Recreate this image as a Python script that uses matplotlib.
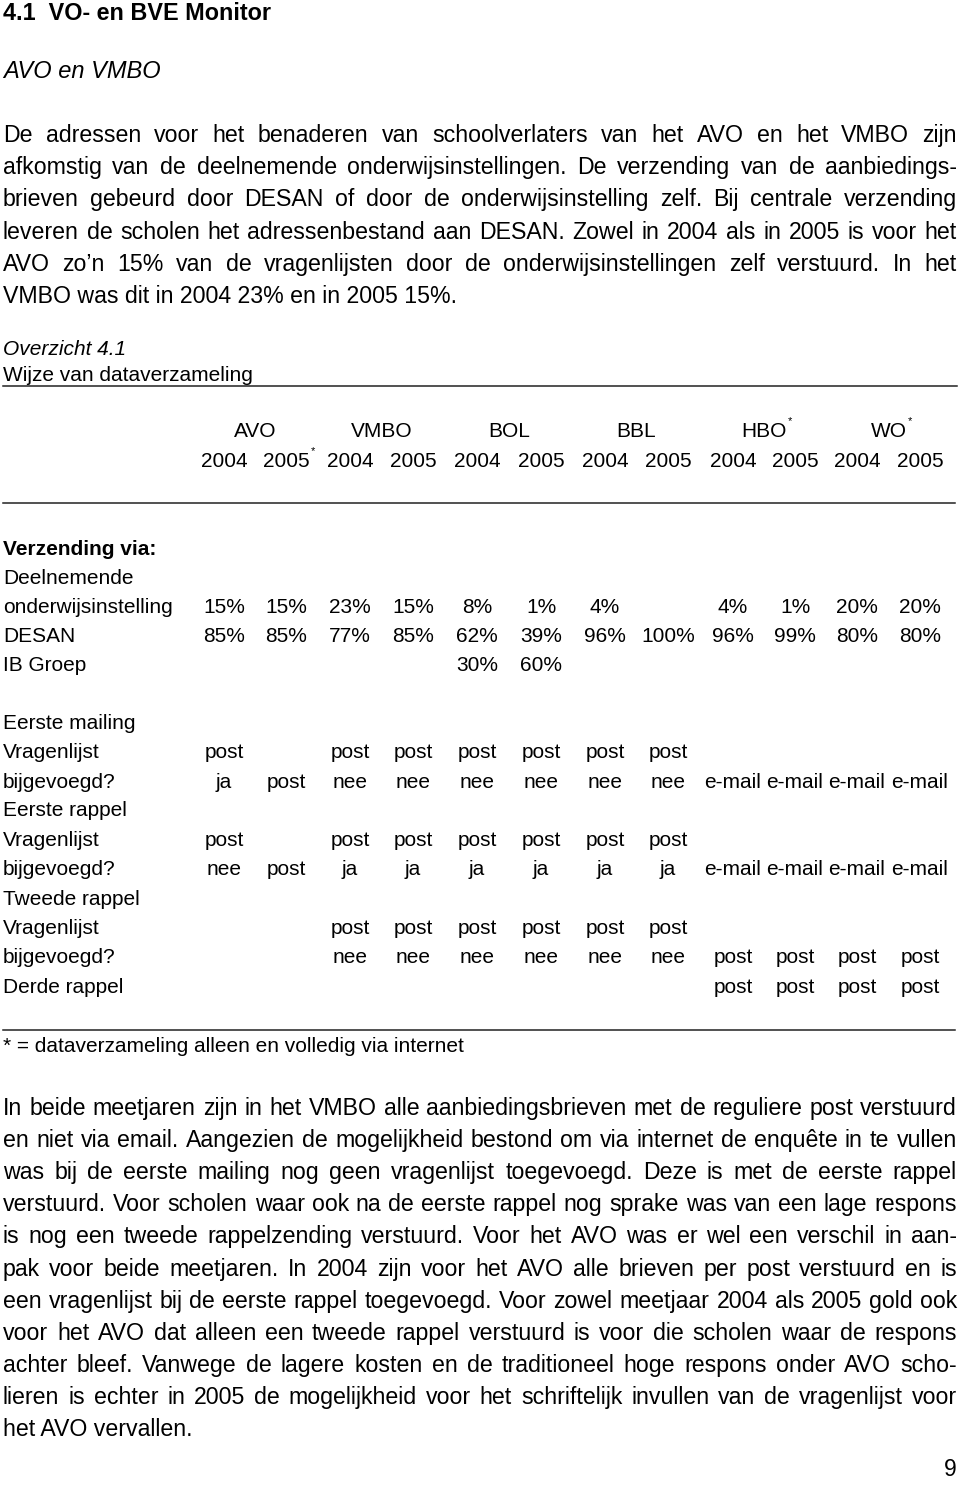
import matplotlib
matplotlib.use("Agg")
import matplotlib.pyplot as plt

plt.rcParams['font.family'] = ['Liberation Sans', 'DejaVu Sans']

W, H = 960, 1485
LEFT, RIGHT = 3, 957
FS = 15        # table text
FS_BODY = 16.7  # running text

title = "4.1  VO- en BVE Monitor"
subtitle = "AVO en VMBO"

para1 = [
    "De adressen voor het benaderen van schoolverlaters van het AVO en het VMBO zijn",
    "afkomstig van de deelnemende onderwijsinstellingen. De verzending van de aanbiedings-",
    "brieven gebeurd door DESAN of door de onderwijsinstelling zelf. Bij centrale verzending",
    "leveren de scholen het adressenbestand aan DESAN. Zowel in 2004 als in 2005 is voor het",
    "AVO zo\u2019n 15% van de vragenlijsten door de onderwijsinstellingen zelf verstuurd. In het",
    "VMBO was dit in 2004 23% en in 2005 15%.",
]

para2 = [
    "In beide meetjaren zijn in het VMBO alle aanbiedingsbrieven met de reguliere post verstuurd",
    "en niet via email. Aangezien de mogelijkheid bestond om via internet de enquête in te vullen",
    "was bij de eerste mailing nog geen vragenlijst toegevoegd. Deze is met de eerste rappel",
    "verstuurd. Voor scholen waar ook na de eerste rappel nog sprake was van een lage respons",
    "is nog een tweede rappelzending verstuurd. Voor het AVO was er wel een verschil in aan-",
    "pak voor beide meetjaren. In 2004 zijn voor het AVO alle brieven per post verstuurd en is",
    "een vragenlijst bij de eerste rappel toegevoegd. Voor zowel meetjaar 2004 als 2005 gold ook",
    "voor het AVO dat alleen een tweede rappel verstuurd is voor die scholen waar de respons",
    "achter bleef. Vanwege de lagere kosten en de traditioneel hoge respons onder AVO scho-",
    "lieren is echter in 2005 de mogelijkheid voor het schriftelijk invullen van de vragenlijst voor",
    "het AVO vervallen.",
]

groups = ["AVO", "VMBO", "BOL", "BBL", "HBO", "WO"]
group_star = [False, False, False, False, True, True]
years = ["2004", "2005"] * 6
year_star = [False, True] + [False] * 10

row_labels = ["Verzending via:", "Deelnemende", "onderwijsinstelling", "DESAN", "IB Groep",
              "Eerste mailing", "Vragenlijst", "bijgevoegd?", "Eerste rappel", "Vragenlijst",
              "bijgevoegd?", "Tweede rappel", "Vragenlijst", "bijgevoegd?", "Derde rappel"]

e = ""
row_values = [
    [e] * 12,
    [e] * 12,
    ["15%", "15%", "23%", "15%", "8%", "1%", "4%", e, "4%", "1%", "20%", "20%"],
    ["85%", "85%", "77%", "85%", "62%", "39%", "96%", "100%", "96%", "99%", "80%", "80%"],
    [e, e, e, e, "30%", "60%", e, e, e, e, e, e],
    [e] * 12,
    ["post", e, "post", "post", "post", "post", "post", "post", e, e, e, e],
    ["ja", "post", "nee", "nee", "nee", "nee", "nee", "nee", "e-mail", "e-mail", "e-mail", "e-mail"],
    [e] * 12,
    ["post", e, "post", "post", "post", "post", "post", "post", e, e, e, e],
    ["nee", "post", "ja", "ja", "ja", "ja", "ja", "ja", "e-mail", "e-mail", "e-mail", "e-mail"],
    [e] * 12,
    [e, e, "post", "post", "post", "post", "post", "post", e, e, e, e],
    [e, e, "nee", "nee", "nee", "nee", "nee", "nee", "post", "post", "post", "post"],
    [e] * 8 + ["post"] * 4,
]

footnote = "* = dataverzameling alleen en volledig via internet"

# layout (pixel positions, baselines)
col_x = [224, 286, 350, 413, 477, 541, 605, 668, 733, 795, 857, 920]
row_y = [555, 584, 613, 642, 671, 729, 758, 788, 816, 846, 875, 905, 934, 963, 993]

fig = plt.figure(figsize=(W / 100, H / 100), dpi=100)
ax = fig.add_axes([0, 0, 1, 1])
ax.set_xlim(0, W)
ax.set_ylim(H, 0)
ax.axis("off")
renderer = fig.canvas.get_renderer()


def justify(line, y, full=True):
    y = round(y)
    words = line.split()
    if not full:
        ax.text(LEFT, y, line, fontsize=FS_BODY, va="baseline", ha="left")
        return
    arts = [ax.text(0, y, w, fontsize=FS_BODY, va="baseline", ha="left") for w in words]
    widths = [a.get_window_extent(renderer=renderer).width for a in arts]
    gap = (RIGHT - LEFT - sum(widths)) / (len(words) - 1)
    x = LEFT
    for a, wd in zip(arts, widths):
        a.set_x(x)
        x += wd + gap


ax.text(LEFT, 20, title, fontsize=16.8, fontweight="bold", va="baseline")
ax.text(LEFT, 78, subtitle, fontsize=17, style="italic", va="baseline")

for i, line in enumerate(para1):
    justify(line, 142 + i * 32.2, full=(i < len(para1) - 1))

ax.text(LEFT, 355, "Overzicht 4.1", fontsize=FS, style="italic", va="baseline")
ax.text(LEFT, 381, "Wijze van dataverzameling", fontsize=FS, va="baseline")
ax.plot([LEFT, RIGHT], [386, 386], color="#222222", lw=1.1)

for g, (name, star) in enumerate(zip(groups, group_star)):
    cx = (col_x[2 * g] + col_x[2 * g + 1]) / 2
    t = ax.text(cx, 437, name, fontsize=FS, ha="center", va="baseline")
    if star:
        bb = t.get_window_extent(renderer=renderer)
        ax.text(bb.x1 + 1, 424, "*", fontsize=8, ha="left", va="baseline")

for c, (yr, star) in enumerate(zip(years, year_star)):
    t = ax.text(col_x[c], 467, yr, fontsize=FS, ha="center", va="baseline")
    if star:
        bb = t.get_window_extent(renderer=renderer)
        ax.text(bb.x1 + 1, 454, "*", fontsize=8, ha="left", va="baseline")

ax.plot([LEFT, 955], [503, 503], color="#222222", lw=1.1)

for r, (lab, vals) in enumerate(zip(row_labels, row_values)):
    ax.text(LEFT, row_y[r], lab, fontsize=FS, va="baseline",
            fontweight="bold" if r == 0 else "normal")
    for c, v in enumerate(vals):
        if v:
            ax.text(col_x[c], row_y[r], v, fontsize=FS, ha="center", va="baseline")

ax.plot([LEFT, 955], [1030, 1030], color="#222222", lw=1.1)
ax.text(LEFT, 1052, footnote, fontsize=FS, va="baseline")

for i, line in enumerate(para2):
    justify(line, 1115 + i * 32.1, full=(i < len(para2) - 1))

ax.text(957, 1476, "9", fontsize=16.5, ha="right", va="baseline")

fig.savefig("out.png", dpi=100)
